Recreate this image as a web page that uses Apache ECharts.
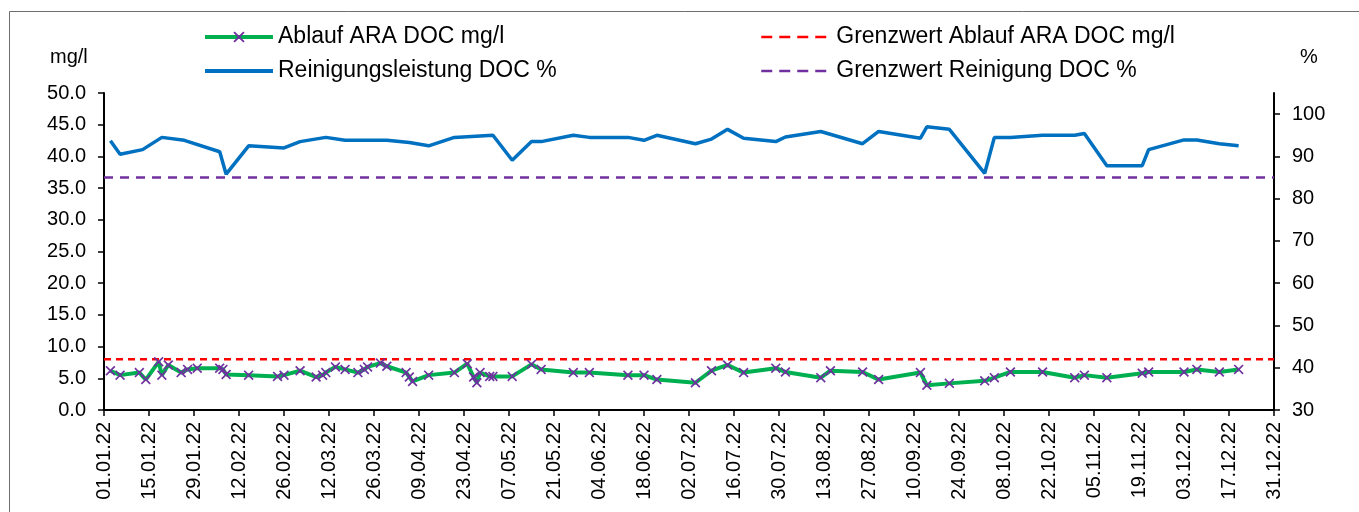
<!DOCTYPE html>
<html>
<head>
<meta charset="utf-8">
<script src="https://cdn.jsdelivr.net/npm/echarts@6/dist/echarts.min.js"></script>
<style>
html,body{margin:0;padding:0;background:#fff;}
#chart{width:1359px;height:512px;}
</style>
</head>
<body>
<div id="chart"></div>
<script>
// ---- data ----
const ablaufDates = ['2022-01-03','2022-01-06','2022-01-12','2022-01-14','2022-01-18','2022-01-19','2022-01-21','2022-01-25','2022-01-27','2022-01-30',
  '2022-02-06','2022-02-07','2022-02-08','2022-02-15','2022-02-24','2022-02-26','2022-03-03','2022-03-08','2022-03-10','2022-03-11',
  '2022-03-14','2022-03-17','2022-03-21','2022-03-23','2022-03-24','2022-03-28','2022-03-30','2022-04-05','2022-04-06','2022-04-07',
  '2022-04-12','2022-04-20','2022-04-24','2022-04-26','2022-04-27','2022-04-28','2022-05-01','2022-05-02','2022-05-08','2022-05-14',
  '2022-05-17','2022-05-27','2022-06-01','2022-06-13','2022-06-18','2022-06-22','2022-07-04','2022-07-09','2022-07-14','2022-07-19',
  '2022-07-29','2022-08-01','2022-08-12','2022-08-15','2022-08-25','2022-08-30','2022-09-12','2022-09-14','2022-09-21','2022-10-02',
  '2022-10-05','2022-10-10','2022-10-20','2022-10-30','2022-11-02','2022-11-09','2022-11-20','2022-11-22','2022-12-03','2022-12-07',
  '2022-12-14','2022-12-20'];
const ablaufValues = [6.2,5.5,5.9,4.8,7.6,5.5,7.1,5.9,6.4,6.6,
  6.6,6.4,5.6,5.5,5.3,5.5,6.2,5.2,5.5,5.9,
  6.8,6.4,5.9,6.4,6.8,7.4,6.9,5.9,5.2,4.5,
  5.5,5.9,7.3,5.2,4.3,5.9,5.3,5.3,5.3,7.2,
  6.4,5.9,5.9,5.5,5.5,4.8,4.3,6.2,7.1,5.9,
  6.6,6.0,5.1,6.2,6.0,4.8,5.9,3.9,4.2,4.6,
  5.1,6.0,6.0,5.1,5.5,5.1,5.8,6.0,6.0,6.4,
  6.0,6.4];

const reinigungDates = ['2022-01-03','2022-01-06','2022-01-13','2022-01-19','2022-01-26','2022-02-06','2022-02-08','2022-02-15','2022-02-26','2022-03-03',
  '2022-03-11','2022-03-17','2022-03-30','2022-04-06','2022-04-12','2022-04-20','2022-05-02','2022-05-08','2022-05-14','2022-05-17',
  '2022-05-27','2022-06-01','2022-06-13','2022-06-18','2022-06-22','2022-07-04','2022-07-09','2022-07-14','2022-07-19','2022-07-29',
  '2022-08-01','2022-08-12','2022-08-25','2022-08-30','2022-09-12','2022-09-14','2022-09-21','2022-10-02','2022-10-05','2022-10-10',
  '2022-10-20','2022-10-30','2022-11-02','2022-11-09','2022-11-20','2022-11-22','2022-12-03','2022-12-07','2022-12-14','2022-12-20'];
const reinigungValues = [93.7,90.5,91.6,94.5,93.8,91.1,85.8,92.5,92.0,93.5,
  94.5,93.8,93.8,93.3,92.5,94.5,95.0,89.1,93.5,93.5,
  95.0,94.5,94.5,93.8,95.0,93.0,94.1,96.4,94.3,93.5,
  94.6,95.9,93.0,95.9,94.3,97.0,96.4,86.0,94.5,94.5,
  95.0,95.0,95.4,87.8,87.8,91.6,93.9,93.9,93.0,92.5];

const grenzwertAblauf = 8;      // mg/l
const grenzwertReinigung = 85;  // %
const axisStartDate = '2022-01-01';
const axisEndDate = '2022-12-31';
const tickStepDays = 14;
const rightTicks = [30,40,50,60,70,80,90,100];
const seriesNames = ['Ablauf ARA DOC mg/l','Grenzwert Ablauf ARA DOC mg/l','Reinigungsleistung DOC %','Grenzwert Reinigung DOC %'];

// ---- helpers ----
const DAY = 86400000;
function ts(s){ const p = s.split('-').map(Number); return Date.UTC(p[0], p[1]-1, p[2]); }
function pad(n){ return (n < 10 ? '0' : '') + n; }
function fmtDate(v){ const d = new Date(v); return pad(d.getUTCDate()) + '.' + pad(d.getUTCMonth()+1) + '.' + String(d.getUTCFullYear()).slice(2); }
const xMin = ts(axisStartDate), xMax = ts(axisEndDate);

const FONT = '"Liberation Sans", Arial, sans-serif';
const X_SYMBOL = 'path://M0,1.2L1.2,0L5,3.8L8.8,0L10,1.2L6.2,5L10,8.8L8.8,10L5,6.2L1.2,10L0,8.8L3.8,5Z';

const chart = echarts.init(document.getElementById('chart'), null, {renderer:'canvas'});

function legendBox(name, left, top, w, lineStyle, hideSymbol, textPadLeft){
  const o = {
    data:[name], left:left, top:top, padding:0, itemWidth:w, itemHeight:14, itemGap:0,
    selectedMode:false,
    lineStyle:lineStyle,
    textStyle:{fontFamily:FONT, fontSize:23, color:'#000', lineHeight:26, padding:[0,0,0,textPadLeft||0]}
  };
  if (hideSymbol) o.itemStyle = {opacity:0, borderWidth:0};
  return o;
}

const option = {
  animation:false,
  backgroundColor:'#fff',
  textStyle:{fontFamily:FONT},
  grid:{left:104, right:85, top:93, bottom:102, containLabel:false, outerBoundsMode:'none'},
  legend:[
    legendBox(seriesNames[0], 203, 24, 68, {width:4}, false, 0),
    legendBox(seriesNames[2], 203, 58, 68, {width:4}, true, 0),
    legendBox(seriesNames[1], 760, 24, 65, {width:2.5, type:[11,7]}, true, 5),
    legendBox(seriesNames[3], 760, 58, 65, {width:2.5, type:[11,7]}, true, 5)
  ],
  graphic:[
    {type:'rect', silent:true, z:-1, shape:{x:9.5, y:11.5, width:1400, height:600}, style:{fill:null, stroke:'#6e6e6e', lineWidth:1}},
    {type:'text', silent:true, left:50, top:47, style:{text:'mg/l', fontFamily:FONT, fontSize:20, fill:'#000'}},
    {type:'text', silent:true, left:1300, top:47, style:{text:'%', fontFamily:FONT, fontSize:20, fill:'#000'}}
  ],
  xAxis:{
    type:'value', min:xMin, max:xMax, interval:tickStepDays*DAY,
    axisLine:{show:true, onZero:false, lineStyle:{color:'#000', width:2}},
    axisTick:{show:true, length:6, lineStyle:{color:'#000', width:1.5}},
    axisLabel:{rotate:90, margin:12, fontSize:20, color:'#000', fontFamily:FONT, formatter:fmtDate, hideOverlap:false},
    splitLine:{show:false}
  },
  yAxis:[
    {
      type:'value', min:0, max:50, interval:5, position:'left',
      axisLine:{show:true, lineStyle:{color:'#000', width:2}},
      axisTick:{show:true, length:6, lineStyle:{color:'#000', width:1.5}},
      axisLabel:{margin:18, fontSize:20, color:'#000', fontFamily:FONT, formatter:function(v){return v.toFixed(1);}},
      splitLine:{show:false}
    },
    {
      type:'value', min:30, max:105, interval:10, position:'right',
      axisLine:{show:true, lineStyle:{color:'#000', width:2}},
      axisTick:{show:true, length:6, customValues:rightTicks, lineStyle:{color:'#000', width:1.5}},
      axisLabel:{margin:18, fontSize:20, color:'#000', fontFamily:FONT, customValues:rightTicks},
      splitLine:{show:false}
    }
  ],
  series:[
    {
      name:seriesNames[0], type:'line', yAxisIndex:0,
      data:ablaufDates.map(function(d,i){return [ts(d), ablaufValues[i]];}),
      symbol:X_SYMBOL, symbolSize:10, showSymbol:true, showAllSymbol:true,
      itemStyle:{color:'#7030a0', borderWidth:0},
      lineStyle:{color:'#00b050', width:4},
      emphasis:{disabled:true}, z:3
    },
    {
      name:seriesNames[1], type:'line', yAxisIndex:0,
      data:[[xMin, grenzwertAblauf],[xMax, grenzwertAblauf]],
      symbol:'none', itemStyle:{color:'#ff0000'},
      lineStyle:{color:'#ff0000', width:2.5, type:[7,5]},
      emphasis:{disabled:true}, z:2
    },
    {
      name:seriesNames[2], type:'line', yAxisIndex:1,
      data:reinigungDates.map(function(d,i){return [ts(d), reinigungValues[i]];}),
      symbol:'none', itemStyle:{color:'#0070c0'},
      lineStyle:{color:'#0070c0', width:3.5},
      emphasis:{disabled:true}, z:2
    },
    {
      name:seriesNames[3], type:'line', yAxisIndex:1,
      data:[[xMin, grenzwertReinigung],[xMax, grenzwertReinigung]],
      symbol:'none', itemStyle:{color:'#7030a0'},
      lineStyle:{color:'#7030a0', width:2.5, type:[9,7]},
      emphasis:{disabled:true}, z:2
    }
  ]
};
chart.setOption(option);
</script>
</body>
</html>
